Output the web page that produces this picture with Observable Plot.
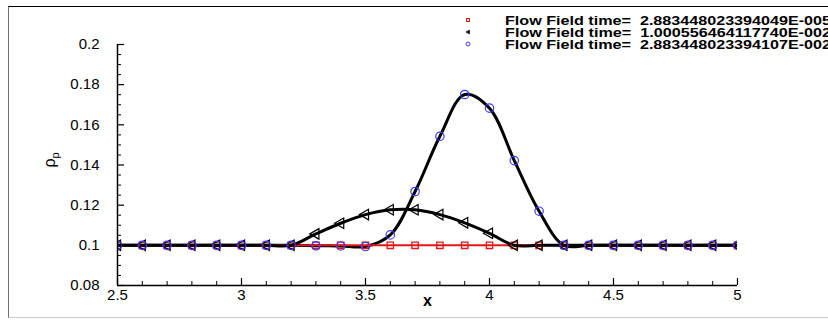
<!DOCTYPE html>
<html><head><meta charset="utf-8">
<script src="https://cdn.jsdelivr.net/npm/d3@7"></script>
<script src="https://cdn.jsdelivr.net/npm/@observablehq/plot@0.6"></script>
<style>
html,body{margin:0;padding:0;background:#fff;overflow:hidden;}
#wrap{position:relative;width:828px;height:320px;overflow:hidden;font-family:"Liberation Sans",Arial,sans-serif;}
#frame{position:absolute;left:8px;top:6px;width:840px;height:310px;border-left:1px solid #707070;border-top:1px solid #000;border-bottom:1px solid #c8c8c8;pointer-events:none;}
#chart,#legend{position:absolute;left:0;top:0;}
</style></head>
<body><div id="wrap"><div id="frame"></div><div id="chart"></div><svg id="legend" width="828" height="320"></svg></div>
<script>
// ---- data ----
const xs = [2.5,2.6,2.7,2.8,2.9,3.0,3.1,3.2,3.3,3.4,3.5,3.6,3.7,3.8,3.9,4.0,4.1,4.2,4.3,4.4,4.5,4.6,4.7,4.8,4.9,5.0];
const rhoEarly = [0.1,0.1,0.1,0.1,0.1,0.1,0.1,0.1,0.1,0.1,0.1,0.1,0.1,0.1,0.1,0.1,0.1,0.1,0.1,0.1,0.1,0.1,0.1,0.1,0.1,0.1];
const rhoMid = [0.1,0.1,0.1,0.1,0.1,0.1,0.1,0.1,0.1057,0.1110,0.1153,0.1177,0.1177,0.1153,0.1112,0.1060,0.1,0.1,0.1,0.1,0.1,0.1,0.1,0.1,0.1,0.1];
const rhoLate = [0.1,0.1,0.1,0.1,0.1,0.1,0.1,0.1,0.0998,0.0997,0.0994,0.1052,0.1268,0.1543,0.1751,0.1683,0.1422,0.1170,0.1,0.1,0.1,0.1,0.1,0.1,0.1,0.1];
const legendLabels = [
  "Flow Field time=  2.883448023394049E-005",
  "Flow Field time=  1.000556464117740E-002",
  "Flow Field time=  2.883448023394107E-002"
];
const xTicks = [2.5,3,3.5,4,4.5,5];
const xTickLabels = ["2.5","3","3.5","4","4.5","5"];
const xMinorTicks = [2.6,2.7,2.8,2.9,3.1,3.2,3.3,3.4,3.6,3.7,3.8,3.9,4.1,4.2,4.3,4.4,4.6,4.7,4.8,4.9];
const yTicks = [0.08,0.1,0.12,0.14,0.16,0.18,0.2];
const yTickLabels = ["0.08","0.1","0.12","0.14","0.16","0.18","0.2"];
const yMinorTicks = [0.085,0.09,0.095,0.105,0.11,0.115,0.125,0.13,0.135,0.145,0.15,0.155,0.165,0.17,0.175,0.185,0.19,0.195];
const xLabel = "x";

// ---- styles ----
const RED = "#e01818", BLUE = "#3c3cff", FONT = "Liberation Sans, Arial, sans-serif";

const data = xs.map((x, i) => ({x, early: rhoEarly[i], mid: rhoMid[i], late: rhoLate[i]}));

const plot = Plot.plot({
  width: 828, height: 320,
  marginLeft: 117, marginRight: 91, marginTop: 44, marginBottom: 35,
  x: {domain: [2.5, 5]},
  y: {domain: [0.08, 0.2]},
  style: {fontFamily: FONT, fontSize: "15px", color: "#000", background: "transparent", overflow: "visible"},
  marks: [
    Plot.line(data, {x: "x", y: "late", stroke: "#000", strokeWidth: 3, curve: "catmull-rom", clip: true}),
    Plot.line(data, {x: "x", y: "early", stroke: RED, strokeWidth: 2, clip: true}),
    Plot.line(data, {x: "x", y: "mid", stroke: "#000", strokeWidth: 3, curve: "catmull-rom", clip: true}),
    Plot.dot(data, {x: "x", y: "early", symbol: "square", r: 3.6, stroke: RED, fill: "none", strokeWidth: 1.3, clip: true}),
    Plot.dot(data, {x: "x", y: "mid", symbol: "triangle", r: 3.9, rotate: -90, stroke: "#000", fill: "none", strokeWidth: 1.2, clip: true}),
    Plot.dot(data, {x: "x", y: "late", symbol: "circle", r: 4.2, stroke: BLUE, fill: "none", strokeWidth: 1.2, clip: true}),
    Plot.ruleX([2.5], {y1: 0.08, y2: 0.2, stroke: "#000", strokeWidth: 1.5}),
    Plot.ruleY([0.08], {x1: 2.5, x2: 5, stroke: "#000", strokeWidth: 1.5}),
    Plot.ruleX(xTicks, {x: d => d, y1: 0.08, y2: 0.08, insetBottom: 7, stroke: "#000", strokeWidth: 1.2}),
    Plot.ruleX(xMinorTicks, {x: d => d, y1: 0.08, y2: 0.08, insetBottom: 4, stroke: "#000", strokeWidth: 1}),
    Plot.ruleY(yTicks, {y: d => d, x1: 2.5, x2: 2.5, insetRight: -7, stroke: "#000", strokeWidth: 1.2}),
    Plot.ruleY(yMinorTicks, {y: d => d, x1: 2.5, x2: 2.5, insetRight: -4, stroke: "#000", strokeWidth: 1}),
    Plot.axisX({ticks: xTicks, tickFormat: d => xTickLabels[xTicks.indexOf(d)], tickSize: 0, tickPadding: 4, label: null, fontSize: 15}),
    Plot.axisY({ticks: yTicks, tickFormat: d => yTickLabels[yTicks.indexOf(d)], tickSize: 0, tickPadding: 18, label: null, fontSize: 15}),
    Plot.text([xLabel], {frameAnchor: "bottom", text: d => d, dy: 20, fontWeight: "bold", fontSize: 16})
  ]
});
document.getElementById("chart").appendChild(plot);

// y-axis label with subscript
const svg = d3.select(plot);
const yl = svg.append("text")
  .attr("transform", "translate(55,160) rotate(-90)")
  .attr("text-anchor", "middle")
  .attr("font-family", FONT)
  .attr("font-size", 16)
  .attr("fill", "#000");
yl.append("tspan").text("ρ");
yl.append("tspan").attr("font-size", 11).attr("dy", 4).text("p");

// legend
const lg = d3.select("#legend");
const rowsY = [20, 32, 44];
const sym = [
  g => g.append("rect").attr("x", -1.5).attr("y", -1.5).attr("width", 3).attr("height", 3).attr("fill", "none").attr("stroke", RED).attr("stroke-width", 1),
  g => g.append("path").attr("d", "M-2,0L1.5,-2L1.5,2Z").attr("fill", "#000").attr("stroke", "#000").attr("stroke-width", 0.6),
  g => g.append("circle").attr("r", 2).attr("fill", "none").attr("stroke", BLUE).attr("stroke-width", 1)
];
legendLabels.forEach((lab, i) => {
  const g = lg.append("g").attr("transform", `translate(468,${rowsY[i]})`);
  sym[i](g);
  lg.append("text").attr("x", 505).attr("y", rowsY[i] + 4.7)
    .attr("font-family", FONT).attr("font-weight", "bold").attr("font-size", 13)
    .attr("textLength", 326).attr("lengthAdjust", "spacingAndGlyphs")
    .attr("fill", "#000").attr("xml:space", "preserve").style("white-space", "pre").text(lab);
});
</script></body></html>
